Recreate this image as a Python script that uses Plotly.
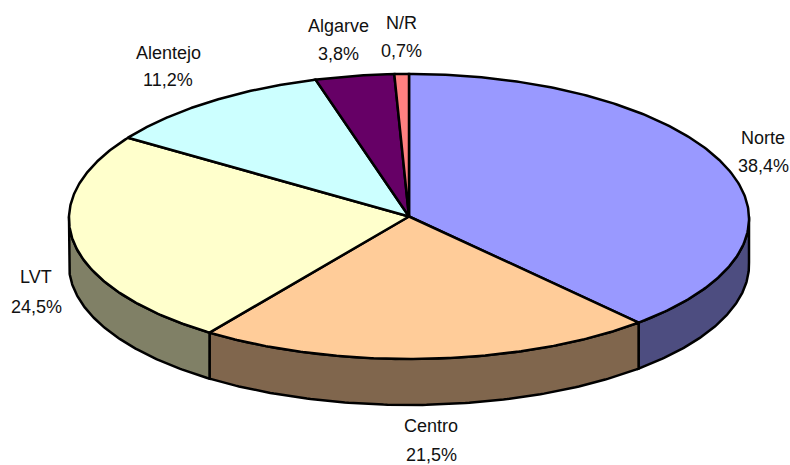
import numpy as np
import plotly.graph_objects as go

categories = ["Norte", "Centro", "LVT", "Alentejo", "Algarve", "N/R"]
values = [38.4, 21.5, 24.5, 11.2, 3.8, 0.7]
top_colors = ["#9999FF", "#FFCC99", "#FFFFCC", "#CCFFFF", "#660066", "#FF8080"]
side_colors = ["#4D4D80", "#80664D", "#808066", "#668080", "#330033", "#804040"]
# label anchor: x, y of first line, y of second line
label_pos = [(763, 138, 166), (431, 426, 455), (36, 277, 307), (168, 53, 80), (338, 26, 54), (401, 23, 51)]

CX, CY, RX, RY, DEPTH, PERSP = 409.0, 216.5, 340.0, 142.5, 46.0, 0.015


def ell(a, dy=0.0):
    # slight perspective: the far rim of the pie is a little narrower than the near rim
    return CX + RX * np.sin(a) * (1 - PERSP * np.cos(a)), CY - RY * np.cos(a) + dy


fig = go.Figure()
line = dict(color="black", width=2.5)
shares = np.array(values) / sum(values)
ends = np.cumsum(shares) * 2 * np.pi
starts = ends - shares * 2 * np.pi

# side walls (front half of the ellipse only)
for s, e, col in zip(starts, ends, side_colors):
    lo, hi = max(s, np.pi / 2), min(e, 3 * np.pi / 2)
    if hi <= lo:
        continue
    a = np.linspace(lo, hi, 120)
    x1, y1 = ell(a)
    x2, y2 = ell(a[::-1], DEPTH)
    fig.add_trace(go.Scatter(x=np.r_[x1, x2, x1[0]], y=np.r_[y1, y2, y1[0]], mode="lines",
                             fill="toself", fillcolor=col, line=line, hoverinfo="skip"))

# top face
for name, s, e, col in zip(categories, starts, ends, top_colors):
    a = np.linspace(s, e, 200)
    x, y = ell(a)
    fig.add_trace(go.Scatter(x=np.r_[CX, x, CX], y=np.r_[CY, y, CY], mode="lines", name=name,
                             fill="toself", fillcolor=col, line=line, hoverinfo="name"))

font = dict(family="Liberation Sans, sans-serif", size=18, color="#111111")
for name, v, (lx, y1, y2) in zip(categories, values, label_pos):
    fig.add_annotation(x=lx, y=y1, text=name, showarrow=False, font=font,
                       xanchor="center", yanchor="middle")
    fig.add_annotation(x=lx, y=y2, text=f"{str(v).replace('.', ',')}%", showarrow=False, font=font,
                       xanchor="center", yanchor="middle")

fig.update_layout(width=790, height=465, margin=dict(l=0, r=0, t=0, b=0), showlegend=False,
                  paper_bgcolor="white", plot_bgcolor="white",
                  xaxis=dict(range=[0, 790], visible=False),
                  yaxis=dict(range=[465, 0], visible=False))
fig.write_html("out.html", config={"displayModeBar": False},
               post_script="document.body.style.margin='0';document.body.style.overflow='hidden';")
